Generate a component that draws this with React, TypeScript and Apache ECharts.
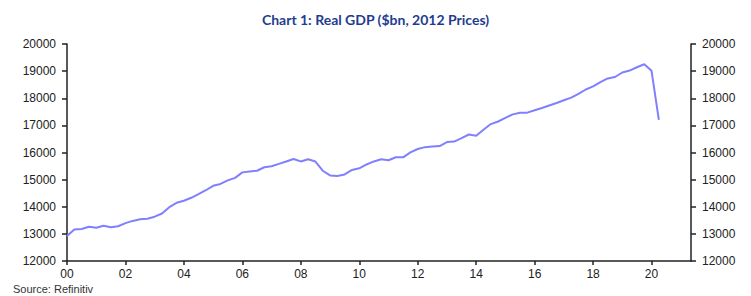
import React, { useEffect, useRef } from "react";
import * as echarts from "echarts";

const TITLE = "Chart 1: Real GDP ($bn, 2012 Prices)";
const SOURCE = "Source: Refinitiv";
const START_YEAR = 2000;
// Quarterly real GDP, $bn 2012 prices, 2000Q1 .. 2020Q2
const gdp2000 = [12924, 13160, 13178, 13261];
const gdp2001 = [13223, 13300, 13245, 13281];
const gdp2002 = [13397, 13478, 13539, 13559];
const gdp2003 = [13634, 13751, 13985, 14146];
const gdp2004 = [14221, 14330, 14465, 14609];
const gdp2005 = [14772, 14840, 14972, 15066];
const gdp2006 = [15267, 15303, 15327, 15457];
const gdp2007 = [15494, 15582, 15666, 15762];
const gdp2008 = [15671, 15752, 15667, 15328];
const gdp2009 = [15156, 15134, 15190, 15356];
const gdp2010 = [15416, 15558, 15671, 15750];
const gdp2011 = [15713, 15826, 15821, 16004];
const gdp2012 = [16129, 16198, 16220, 16239];
const gdp2013 = [16383, 16404, 16531, 16664];
const gdp2014 = [16616, 16841, 17048, 17143];
const gdp2015 = [17278, 17405, 17463, 17469];
const gdp2016 = [17556, 17640, 17735, 17824];
const gdp2017 = [17925, 18021, 18163, 18323];
const gdp2018 = [18438, 18598, 18732, 18783];
const gdp2019 = [18950, 19021, 19142, 19254];
const gdp2020 = [19011, 17206];

const gdp = [
  ...gdp2000, ...gdp2001, ...gdp2002, ...gdp2003, ...gdp2004, ...gdp2005,
  ...gdp2006, ...gdp2007, ...gdp2008, ...gdp2009, ...gdp2010, ...gdp2011,
  ...gdp2012, ...gdp2013, ...gdp2014, ...gdp2015, ...gdp2016, ...gdp2017,
  ...gdp2018, ...gdp2019, ...gdp2020,
];

const xTickYears = [2000, 2002, 2004, 2006, 2008, 2010, 2012, 2014, 2016, 2018, 2020];
const yTicks = [12000, 13000, 14000, 15000, 16000, 17000, 18000, 19000, 20000];

export default function App() {
  const ref = useRef<HTMLDivElement>(null);
  useEffect(() => {
    if (!ref.current) return;
    const chart = echarts.init(ref.current, null, { renderer: "svg" });
    const axisColor = "#222";
    const labelFont = "'Liberation Sans', Arial, sans-serif";
    const yAxisCommon = {
      type: "value",
      min: yTicks[0],
      max: yTicks[yTicks.length - 1],
      interval: 1000,
      splitLine: { show: false },
      axisLine: { show: true, lineStyle: { color: axisColor, width: 1.5 } },
      axisTick: { show: true, length: 5, lineStyle: { color: axisColor, width: 1.5 } },
      axisLabel: {
        color: "#222",
        fontSize: 12,
        fontFamily: labelFont,
        margin: 11,
        formatter: (v: number) => String(v),
      },
    };
    chart.setOption({
      animation: false,
      title: {
        text: TITLE,
        left: "center",
        top: 7,
        textStyle: {
          color: "#1f3d8f",
          fontSize: 14,
          fontWeight: "bold",
          fontFamily: "Lato, 'Open Sans', sans-serif",
        },
      },
      graphic: [
        {
          type: "text",
          left: 13,
          top: 283,
          style: {
            text: SOURCE,
            fill: "#333",
            fontSize: 11,
            fontFamily: labelFont,
          },
        },
      ],
      grid: { left: 67, right: 60, top: 44, bottom: 35, containLabel: false },
      xAxis: {
        type: "value",
        min: START_YEAR,
        max: 2021.35,
        splitLine: { show: false },
        axisLine: { show: true, onZero: false, lineStyle: { color: axisColor, width: 1.5 } },
        axisTick: {
          show: true,
          length: 4,
          customValues: xTickYears,
          lineStyle: { color: axisColor, width: 1.5 },
        },
        axisLabel: {
          customValues: xTickYears,
          color: "#222",
          fontSize: 12,
          fontFamily: labelFont,
          margin: 7,
          formatter: (v: number) => String(Math.round(v) % 100).padStart(2, "0"),
        },
      },
      yAxis: [
        { ...yAxisCommon, position: "left" },
        { ...yAxisCommon, position: "right" },
      ],
      series: [
        {
          type: "line",
          yAxisIndex: 0,
          data: gdp.map((v, i) => [START_YEAR + i / 4, v]),
          showSymbol: false,
          symbol: "none",
          lineStyle: { color: "#8080ff", width: 2 },
        },
      ],
    });
    return () => chart.dispose();
  }, []);
  return <div ref={ref} style={{ width: 751, height: 296, marginLeft: -8, marginTop: -8 }} />;
}
